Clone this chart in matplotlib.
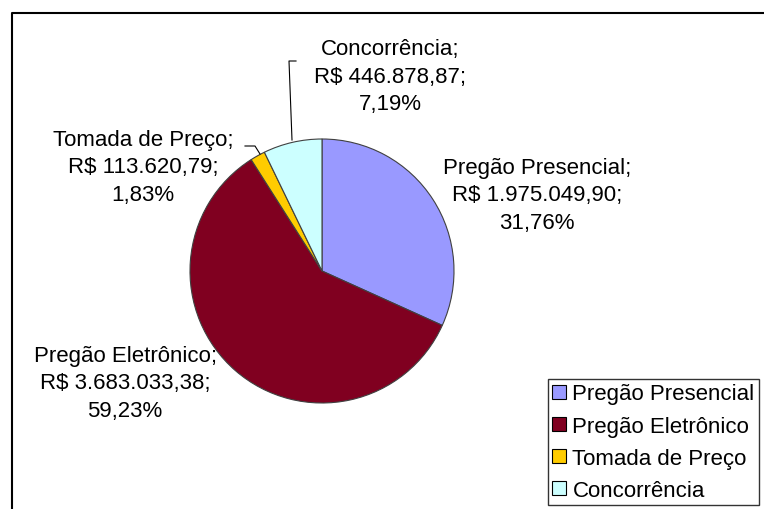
import matplotlib
matplotlib.use("Agg")
import matplotlib.pyplot as plt
from matplotlib.lines import Line2D
from matplotlib.patches import Patch

plt.rcParams['font.family'] = ['Liberation Sans', 'DejaVu Sans']

# dados
categorias = ["Pregão Presencial", "Pregão Eletrônico", "Tomada de Preço", "Concorrência"]
valores = [1975049.90, 3683033.38, 113620.79, 446878.87]
cores = ["#9999FF", "#800020", "#FFCC00", "#CCFFFF"]


def brl(v):
    s = "{:,.2f}".format(v)
    return s.replace(",", "X").replace(".", ",").replace("X", ".")


W, H = 764, 510
fig = plt.figure(figsize=(W / 100, H / 100), dpi=100)

# eixo do pie: centro (322, 272) px, raio 132 px
R = 132
cx, cy = 322, 272
side = 2.5 * R
ax = fig.add_axes([(cx - side / 2) / W, (H - cy - side / 2) / H, side / W, side / H])
wedges, _ = ax.pie(valores, colors=cores, startangle=90, counterclock=False,
                   wedgeprops=dict(edgecolor="#404040", linewidth=0.8))
ax.set_xlim(-1.25, 1.25)
ax.set_ylim(-1.25, 1.25)
ax.set_aspect("equal")

total = sum(valores)
# posicao dos rotulos (px, centro do bloco)
pos_rotulos = [(537, 196), (125, 384), (143, 168), (390, 77)]
for nome, v, (px, py) in zip(categorias, valores, pos_rotulos):
    pct = "{:.2f}".format(100 * v / total).replace(".", ",")
    txt = "{};\nR$ {};\n{}%".format(nome, brl(v), pct)
    fig.text(px / W, 1 - py / H, txt, ha="center", va="center", multialignment="center",
             fontsize=16, linespacing=1.42, color="black")

# linhas de chamada
def linha(xs, ys):
    fig.add_artist(Line2D([x / W for x in xs], [1 - y / H for y in ys],
                          color="black", linewidth=0.8))

linha([296, 289, 292], [62, 62, 141])
linha([245, 255, 260], [147, 147, 155])

# moldura
fig.add_artist(Line2D([11.5 / W, 11.5 / W, 1.0], [0.0, 1 - 13.5 / H, 1 - 13.5 / H],
                      color="black", linewidth=1.5))

# legenda
handles = [Patch(facecolor=c, edgecolor="black", linewidth=0.8) for c in cores]
leg = fig.legend(handles, categorias, loc="upper left",
                 bbox_to_anchor=(548 / W, 1 - 380 / H), fontsize=16,
                 frameon=True, fancybox=False, edgecolor="black",
                 handlelength=0.6, handleheight=0.6, handletextpad=0.3,
                 labelspacing=0.5, borderpad=0.2, borderaxespad=0)
leg.get_frame().set_linewidth(1.0)

fig.savefig("out.png", dpi=100)
